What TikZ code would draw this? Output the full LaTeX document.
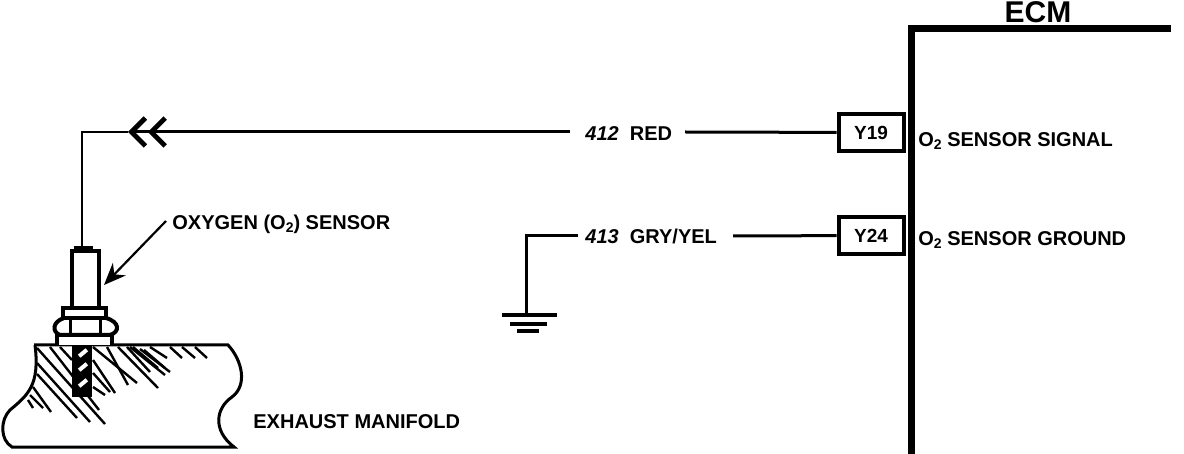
\documentclass[tikz,border=0pt]{standalone}
\usepackage{fontspec}
\setmainfont{Liberation Sans}
\usetikzlibrary{arrows.meta}
\newcommand{\otwo}{O\raisebox{-0.3ex}{\scriptsize 2}}
\tikzset{
  wire/.style={
    % The line:
    line width=1.5pt,
    line join=miter,
  },
  thin wire/.style={
    line width=1pt,
  },
  pin/.style={
    % The shape:
    rectangle,
    minimum width=32.5pt,
    minimum height=18.5pt,
    inner sep=0pt,
    % The border:
    draw,
    line width=2pt,
    fill=white,
    % Font
    font=\bfseries\fontsize{9.5}{10}\selectfont,
  },
  label/.style={
    inner sep=0pt,
    font=\bfseries\fontsize{10}{11}\selectfont,
  },
  hatch/.style={
    line width=1.2pt,
  },
  part/.style={
    line width=2pt,
    fill=white,
  },
}

\begin{document}
\begin{tikzpicture}[x=0.5pt, y=-0.5pt]

  \useasboundingbox (0, 0) rectangle (1184, 454);

  % ECM edge
  \coordinate (ecm corner) at (911, 29);
  \draw [line width=3.5pt] (1171, 29) to (ecm corner) to (911, 454);
  \node (ecm) [label, font=\bfseries\fontsize{15}{16}\selectfont] at (1038, 12) {ECM};

  % pins on the ECM
  \node (y19) [pin] at (871, 132.5) {Y19};
  \node (y24) [pin] at (871, 235.5) {Y24};
  \node (signal) [label, anchor=west] at (918, 141) {\otwo\ SENSOR SIGNAL};
  \node (ground) [label, anchor=west] at (918, 240) {\otwo\ SENSOR GROUND};

  % signal wire
  \node (red) [label, anchor=west] at (585, 134) {\textit{412}\ \ RED};
  \coordinate (chevron) at (128, 132);
  \coordinate (sensor top) at (82, 247);
  \draw [wire] (y19) to (685, 132);
  \draw [wire, -{Straight Barb[length=7pt, width=14pt, line width=2.4pt] Straight Barb[length=7pt, width=14pt, line width=2.4pt]}] (red.west) ++(-15, -2) to (chevron);
  \draw [thin wire] (chevron) to (82, 132) to (sensor top);

  % ground wire
  \node (gry) [label, anchor=west] at (585, 236) {\textit{413}\ \ GRY/YEL};
  \coordinate (earth) at (526, 315);
  \draw [wire] (y24) to (733, 236);
  \draw [wire] (gry.west) ++(-7, 0) to (526, 236) to (earth);
  \draw [wire, line width=1.7pt] (502, 315) to (557, 315);
  \draw [wire, line width=1.7pt] (510, 324) to (547, 324);
  \draw [wire, line width=1.9pt] (517, 331) to (539, 331);

  % manifold
  \coordinate (manifold a) at (34, 345);
  \coordinate (manifold b) at (228, 345);
  \draw [wire] (manifold a) to (manifold b)
    .. controls (242, 360) and (248, 385) .. (232, 397)
    .. controls (216, 408) and (212, 430) .. (234, 447)
    to (12, 447)
    .. controls (0, 440) and (0, 420) .. (10, 410)
    .. controls (28, 395) and (40, 385) .. (35, 345);

  % hatching
  \foreach \xa/\ya/\xb/\yb in {
    37/348/105/424, 37/363/90/422, 37/374/77/418, 33/387/51/412,
    30/395/43/408, 28/400/33/408,
    50/347/99/410, 60/347/72/360,
    93/347/137/383, 107/347/128/385, 93/360/115/393, 93/373/110/392,
    93/387/105/395,
    118/347/158/388, 130/347/165/375, 127/347/150/372, 133/347/158/368,
    140/349/170/372, 144/350/165/368, 150/347/167/358,
    170/347/182/358, 182/347/195/358, 195/347/207/358} {
    \draw [hatch] (\xa, \ya) to (\xb, \yb);
  }

  % sensor
  \node (stud) [draw=none, fill=black, minimum width=10pt, minimum height=26pt, inner sep=0pt] at (82, 371) {};
  \foreach \ypos in {353, 367, 383} {
    \fill [white, rotate around={40:(83, \ypos)}] (78, \ypos - 2) rectangle (88, \ypos + 2);
  }
  \draw [part] (57, 345) to (57, 335) to (112, 335) to (112, 345);
  \draw [part] (64, 318) .. controls (52, 322) and (52, 332) .. (60, 335)
    to (110, 335) .. controls (120, 332) and (120, 322) .. (106, 318) -- cycle;
  \draw [line width=1.5pt] (70, 318) to (70, 335) (100, 318) to (100, 335);
  \draw [part] (63, 308) rectangle (106, 318);
  \draw [part] (72, 251) rectangle (99, 308);
  \fill (74, 246) rectangle (93, 252);

  % sensor label
  \node (oxygen) [label, anchor=west] at (172, 224) {OXYGEN (\otwo) SENSOR};
  \coordinate (sensor side) at (104, 285);
  \draw [wire, line width=1.1pt, -{Stealth[length=11pt, width=9pt]}] (166, 221) to (sensor side);

  \node (exhaust) [label, anchor=west] at (253, 422) {EXHAUST MANIFOLD};

\end{tikzpicture}
\end{document}
